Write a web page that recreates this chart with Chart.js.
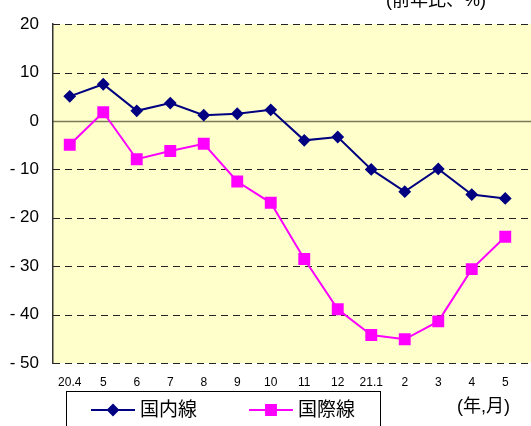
<!DOCTYPE html>
<html>
<head>
<meta charset="utf-8">
<script src="https://cdn.jsdelivr.net/npm/chart.js@4/dist/chart.umd.min.js"></script>
<style>
  html, body { margin: 0; padding: 0; background: #fff; }
</style>
</head>
<body>
<canvas id="airChart" width="531" height="426"></canvas>
<script>
const months = ['20.4', '5', '6', '7', '8', '9', '10', '11', '12', '21.1', '2', '3', '4', '5'];
const domestic = [5.1, 7.6, 2.1, 3.7, 1.2, 1.5, 2.3, -4.0, -3.3, -10.0, -14.6, -9.9, -15.2, -16.0];
const international = [-4.9, 1.8, -7.9, -6.2, -4.7, -12.5, -16.9, -28.5, -38.9, -44.2, -45.1, -41.4, -30.6, -23.9];
const seriesNames = ['国内線', '国際線'];
const yMin = -50, yMax = 20, yStep = 10;

const FONT = "'Liberation Sans', 'Noto Sans CJK JP', sans-serif";

// plot background + grid lines run to the right edge of the picture
const backdrop = {
    id: 'backdrop',
    beforeDraw(chart) {
        const { ctx, chartArea: a } = chart;
        const y = chart.scales.y;
        ctx.save();
        ctx.fillStyle = '#FFFFCC';
        ctx.fillRect(a.left, a.top, chart.width - a.left, a.bottom - a.top);
        y.ticks.forEach(t => {
            const py = Math.round(y.getPixelForValue(t.value)) + 0.5;
            ctx.beginPath();
            if (t.value === 0) {
                ctx.setLineDash([]);
                ctx.strokeStyle = '#7a7a5a';
                ctx.lineWidth = 1.5;
            } else {
                ctx.setLineDash([7, 5]);
                ctx.strokeStyle = '#222';
                ctx.lineWidth = 1;
            }
            ctx.moveTo(a.left, py);
            ctx.lineTo(chart.width, py);
            ctx.stroke();
        });
        ctx.restore();
    },
    afterDraw(chart) {
        const { ctx } = chart;
        ctx.save();
        // legend box
        ctx.strokeStyle = '#000';
        ctx.lineWidth = 1;
        ctx.strokeRect(66.5, 391.5, 314, 60);
        const starts = [91, 249];
        chart.data.datasets.forEach((ds, i) => {
            const x0 = starts[i], ly = 410;
            ctx.beginPath();
            ctx.strokeStyle = ds.borderColor;
            ctx.lineWidth = ds.borderWidth;
            ctx.moveTo(x0, ly);
            ctx.lineTo(x0 + 44, ly);
            ctx.stroke();
            ctx.fillStyle = ds.pointBackgroundColor;
            ctx.strokeStyle = ds.pointBorderColor;
            Chart.helpers.drawPoint(ctx, {
                pointStyle: ds.pointStyle,
                radius: ds.pointRadius,
                borderWidth: 1,
                rotation: 0
            }, x0 + 22, ly);
            ctx.fillStyle = '#000';
            ctx.font = '19px ' + FONT;
            ctx.textBaseline = 'middle';
            ctx.textAlign = 'left';
            ctx.fillText(ds.label, x0 + 49, ly + 1);
        });
        // unit labels
        ctx.fillStyle = '#000';
        ctx.font = '18px ' + FONT;
        ctx.textAlign = 'left';
        ctx.textBaseline = 'middle';
        ctx.fillText('(年,月)', 457, 407);
        ctx.textBaseline = 'alphabetic';
        ctx.fillText('(前年比、%)', 386, 6);
        ctx.restore();
    }
};

const ctx = document.getElementById('airChart').getContext('2d');

new Chart(ctx, {
    type: 'line',
    data: {
        labels: months,
        datasets: [{
            label: seriesNames[0],
            data: domestic,
            borderColor: '#000080',
            backgroundColor: '#000080',
            pointBackgroundColor: '#000080',
            pointBorderColor: '#000080',
            pointStyle: 'rectRot',
            pointRadius: 5,
            borderWidth: 2,
            tension: 0
        }, {
            label: seriesNames[1],
            data: international,
            borderColor: '#FF00FF',
            backgroundColor: '#FF00FF',
            pointBackgroundColor: '#FF00FF',
            pointBorderColor: '#FF00FF',
            pointStyle: 'rect',
            pointRadius: 7,
            borderWidth: 2,
            tension: 0
        }]
    },
    options: {
        responsive: false,
        animation: false,
        layout: { padding: { left: 0, right: 6, top: 22, bottom: 0 } },
        plugins: {
            legend: { display: false },
            tooltip: { enabled: false }
        },
        scales: {
            x: {
                offset: true,
                grid: { display: false, drawTicks: false },
                border: { display: false },
                ticks: {
                    color: '#000',
                    font: { family: FONT, size: 12 },
                    padding: 12,
                    maxRotation: 0,
                    autoSkip: false
                },
                afterFit: s => { s.height = 63; }
            },
            y: {
                min: yMin,
                max: yMax,
                grid: { display: false, drawTicks: false },
                border: { display: true, color: '#333', width: 1.5 },
                ticks: {
                    stepSize: yStep,
                    color: '#000',
                    font: { family: FONT, size: 17 },
                    padding: 14,
                    callback: v => v < 0 ? '- ' + Math.abs(v) : String(v)
                },
                afterFit: s => { s.width = 53; }
            }
        }
    },
    plugins: [backdrop]
});
</script>
</body>
</html>
